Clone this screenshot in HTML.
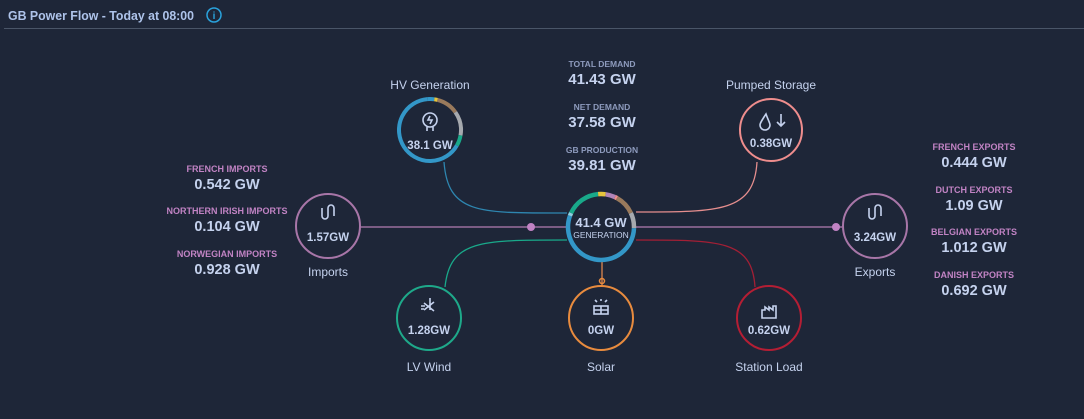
<!DOCTYPE html>
<html><head><meta charset="utf-8"><style>
body{margin:0;background:#1e2638;width:1084px;height:414px;overflow:hidden;font-family:"Liberation Sans",sans-serif}
svg text{font-family:"Liberation Sans",sans-serif}
</style></head><body>
<svg id="s" width="1084" height="414" xmlns="http://www.w3.org/2000/svg">
<rect width="1084" height="414" fill="#1e2638"/>
<text x="8" y="20" fill="#aec3ea" font-size="12.5" font-weight="bold" textLength="186" lengthAdjust="spacingAndGlyphs">GB Power Flow - Today at 08:00</text>
<circle cx="214" cy="15" r="7" fill="none" stroke="#2aa3dd" stroke-width="1.5"/>
<text x="214" y="19" fill="#2aa3dd" font-size="10" text-anchor="middle" font-weight="bold">i</text>
<line x1="4" y1="28.5" x2="1084" y2="28.5" stroke="#4a5568" stroke-width="1"/>

<line x1="360" y1="227" x2="570" y2="227" stroke="#9a6f9e" stroke-width="1.5"/>
<circle cx="531" cy="227" r="4" fill="#c183c4"/>
<line x1="633" y1="227" x2="842" y2="227" stroke="#9a6f9e" stroke-width="1.5"/>
<circle cx="836" cy="227" r="4" fill="#c183c4"/>
<path d="M444 162 C448 215 480 213 567 213" fill="none" stroke="#2e86b0" stroke-width="1.3"/>
<path d="M757 162 C754 212 720 212 636 212" fill="none" stroke="#e68e8e" stroke-width="1.3"/>
<path d="M567 240 C480 240 450 240 445 287" fill="none" stroke="#19a98a" stroke-width="1.3"/>
<path d="M636 240 C720 240 752 240 755 287" fill="none" stroke="#a31f35" stroke-width="1.3"/>
<line x1="602" y1="262" x2="602" y2="288" stroke="#c4784a" stroke-width="1.5"/>
<circle cx="602" cy="281" r="2.5" fill="none" stroke="#e88b3e" stroke-width="1.5"/>

<g id="arcs"></g>

<circle cx="328" cy="226" r="32" fill="#1e2638" stroke="#a876a8" stroke-width="2"/>
<circle cx="875" cy="226" r="32" fill="#1e2638" stroke="#a876a8" stroke-width="2"/>
<circle cx="771" cy="130" r="31" fill="#1e2638" stroke="#ee8d8d" stroke-width="2"/>
<circle cx="429" cy="318" r="32" fill="#1e2638" stroke="#1ea98a" stroke-width="2"/>
<circle cx="601" cy="318" r="32" fill="#1e2638" stroke="#e88b3e" stroke-width="2"/>
<circle cx="769" cy="318" r="32" fill="#1e2638" stroke="#b41e34" stroke-width="2"/>

<g fill="#c5d2ee" font-weight="bold" text-anchor="middle">
<text x="430" y="149" font-size="11.5">38.1 GW</text>
<text x="771" y="147" font-size="11.5">0.38GW</text>
<text x="328" y="241" font-size="11.5">1.57GW</text>
<text x="875" y="241" font-size="11.5">3.24GW</text>
<text x="429" y="334" font-size="11.5">1.28GW</text>
<text x="601" y="334" font-size="11.5">0GW</text>
<text x="769" y="334" font-size="11.5">0.62GW</text>
<text x="601" y="227" font-size="13">41.4 GW</text>
<text x="601" y="238" font-size="8.5" font-weight="normal">GENERATION</text>
</g>
<g fill="#c5d2ee" font-size="12" text-anchor="middle">
<text x="430" y="89">HV Generation</text>
<text x="771" y="89">Pumped Storage</text>
<text x="328" y="276">Imports</text>
<text x="875" y="276">Exports</text>
<text x="429" y="371">LV Wind</text>
<text x="601" y="371">Solar</text>
<text x="769" y="371">Station Load</text>
</g>
<g fill="none" stroke="#c5d2ee" stroke-width="1.6">
<circle cx="430" cy="120" r="7"/><path d="M427 127 v4 M433 127 v4 M430 116 l-2 4 h4 l-2 4"/>
<path d="M766 114 c-4 6 -6 9 -6 11 a5 5 0 0 0 10 0 c0 -2 -2 -5 -4 -11z"/><path d="M781 114 v12 M777 122 l4 4 4 -4"/>
<path d="M322 208 v8 a3 3 0 0 0 6 0 v-8 a3 3 0 0 1 6 0 v8"/>
<path d="M869 208 v8 a3 3 0 0 0 6 0 v-8 a3 3 0 0 1 6 0 v8"/>
<path d="M424 303 l10 8 M430 298 l0 12 M424 310 l10 -8 M421 306 h4 M421 309 h3"/>
<rect x="594" y="306" width="14" height="8"/><path d="M601 306 v8 M594 310 h14 M595 300 l2 2 M607 300 l-2 2 M601 299 v2"/>
<path d="M762 310 v8 h14 v-12 h-3 v4 l-4 -3 v3 l-4 -3 v3z"/>
</g>

<g text-anchor="middle">
<text x="602" y="67" fill="#8e9bbd" font-size="8.5" font-weight="bold">TOTAL DEMAND</text>
<text x="602" y="84" fill="#c5d2ee" font-size="15" font-weight="bold">41.43 GW</text>
<text x="602" y="110" fill="#8e9bbd" font-size="8.5" font-weight="bold">NET DEMAND</text>
<text x="602" y="127" fill="#c5d2ee" font-size="15" font-weight="bold">37.58 GW</text>
<text x="602" y="153" fill="#8e9bbd" font-size="8.5" font-weight="bold">GB PRODUCTION</text>
<text x="602" y="170" fill="#c5d2ee" font-size="15" font-weight="bold">39.81 GW</text>
</g>
<g text-anchor="middle" font-weight="bold">
<text x="227" y="172" fill="#c183c4" font-size="9">FRENCH IMPORTS</text>
<text x="227" y="189" fill="#c5d2ee" font-size="14.5">0.542 GW</text>
<text x="227" y="214" fill="#c183c4" font-size="9">NORTHERN IRISH IMPORTS</text>
<text x="227" y="231" fill="#c5d2ee" font-size="14.5">0.104 GW</text>
<text x="227" y="257" fill="#c183c4" font-size="9">NORWEGIAN IMPORTS</text>
<text x="227" y="274" fill="#c5d2ee" font-size="14.5">0.928 GW</text>
<text x="974" y="150" fill="#c183c4" font-size="9">FRENCH EXPORTS</text>
<text x="974" y="167" fill="#c5d2ee" font-size="14.5">0.444 GW</text>
<text x="974" y="193" fill="#c183c4" font-size="9">DUTCH EXPORTS</text>
<text x="974" y="210" fill="#c5d2ee" font-size="14.5">1.09 GW</text>
<text x="974" y="235" fill="#c183c4" font-size="9">BELGIAN EXPORTS</text>
<text x="974" y="252" fill="#c5d2ee" font-size="14.5">1.012 GW</text>
<text x="974" y="278" fill="#c183c4" font-size="9">DANISH EXPORTS</text>
<text x="974" y="295" fill="#c5d2ee" font-size="14.5">0.692 GW</text>
</g>
</svg>
<script>
function arc(cx,cy,r,a0,a1,c,w){
 const p=a=>[cx+r*Math.sin(a*Math.PI/180),cy-r*Math.cos(a*Math.PI/180)];
 const [x0,y0]=p(a0),[x1,y1]=p(a1);const large=(a1-a0)>180?1:0;
 const e=document.createElementNS("http://www.w3.org/2000/svg","path");
 e.setAttribute("d",`M${x0} ${y0} A${r} ${r} 0 ${large} 1 ${x1} ${y1}`);
 e.setAttribute("fill","none");e.setAttribute("stroke",c);e.setAttribute("stroke-width",w);
 document.getElementById("arcs").appendChild(e);
}
arc(430,130,31,-5,8,"#3397c8",4);
arc(430,130,31,8,14,"#e6c43c",4);arc(430,130,31,14,55,"#9a7a5c",4);arc(430,130,31,55,100,"#a6a9ae",4);arc(430,130,31,100,120,"#19a98a",4);arc(430,130,31,120,355,"#3397c8",4);
arc(601,227,33,-65,-5,"#19a98a",4.5);arc(601,227,33,-5,8,"#e6c43c",4.5);arc(601,227,33,8,25,"#b184b8",4.5);arc(601,227,33,25,29,"#ee8d8d",4.5);
arc(601,227,33,29,65,"#9a7a5c",4.5);arc(601,227,33,65,92,"#a6a9ae",4.5);arc(601,227,33,92,290,"#3397c8",4.5);arc(601,227,33,290,295,"#8fd0e0",4.5);
</script>
</body></html>
